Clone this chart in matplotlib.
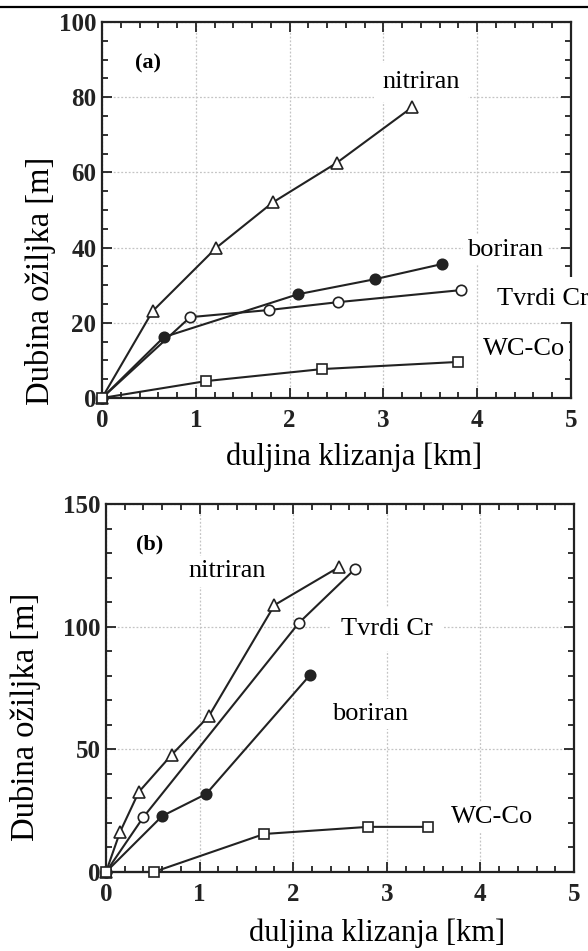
import matplotlib
matplotlib.use("Agg")
import matplotlib.pyplot as plt
from matplotlib.lines import Line2D
from matplotlib.ticker import MultipleLocator

plt.rcParams['font.family'] = ['Liberation Serif', 'DejaVu Serif']

# panel (a)
a_nit_x = [0, 0.54, 1.22, 1.82, 2.50, 3.31]
a_nit_y = [0, 23.1, 40.0, 52.0, 62.5, 77.4]
a_bor_x = [0, 0.66, 2.09, 2.91, 3.62]
a_bor_y = [0, 16.2, 27.6, 31.6, 35.6]
a_cr_x = [0, 0.94, 1.78, 2.52, 3.83]
a_cr_y = [0, 21.5, 23.4, 25.5, 28.7]
a_wc_x = [0, 1.11, 2.35, 3.80]
a_wc_y = [0, 4.5, 7.7, 9.6]

# panel (b)
b_nit_x = [0, 0.15, 0.35, 0.70, 1.10, 1.80, 2.49]
b_nit_y = [0, 16.3, 32.6, 47.7, 63.6, 108.8, 124.3]
b_cr_x = [0, 0.40, 2.06, 2.66]
b_cr_y = [0, 22.4, 101.5, 123.5]
b_bor_x = [0, 0.60, 1.07, 2.18]
b_bor_y = [0, 22.8, 31.8, 80.3]
b_wc_x = [0, 0.51, 1.69, 2.80, 3.44]
b_wc_y = [0, 0, 15.5, 18.4, 18.4]

names = ["nitriran", "boriran", "Tvrdi Cr", "WC-Co"]
xlabel = "duljina klizanja [km]"
ylabel = "Dubina ožiljka [m]"

lc = "#222222"


def setup(ax, ymax, ymajor, yminor):
    ax.set_xlim(0, 5)
    ax.set_ylim(0, ymax)
    ax.xaxis.set_major_locator(MultipleLocator(1))
    ax.xaxis.set_minor_locator(MultipleLocator(0.2))
    ax.yaxis.set_major_locator(MultipleLocator(ymajor))
    ax.yaxis.set_minor_locator(MultipleLocator(yminor))
    ax.tick_params(which="both", direction="in", top=True, right=True,
                   width=1.3, colors="#222222", labelsize=18)
    ax.tick_params(which="major", length=7)
    ax.tick_params(which="minor", length=4)
    ax.tick_params(axis="x", pad=8)
    ax.tick_params(axis="y", pad=4)
    for lab in ax.get_xticklabels() + ax.get_yticklabels():
        lab.set_fontweight("bold")
    ax.grid(True, which="major", linestyle=(0, (1.5, 1.5)), color="#c4c4c4", linewidth=0.9)
    for s in ax.spines.values():
        s.set_linewidth(1.6)
        s.set_color("#222222")
        s.set_zorder(2.5)


def series(ax, x, y, marker, filled, ms):
    ax.plot(x, y, color=lc, linewidth=1.5, marker=marker, markersize=ms,
            markerfacecolor=lc if filled else "white", markeredgecolor=lc,
            markeredgewidth=1.2, zorder=4, clip_on=False)


def label(ax, x, y, s, ha="center", pad=3):
    ax.text(x, y, s, fontsize=19, ha=ha, va="center", zorder=3,
            bbox=dict(facecolor="white", edgecolor="none", pad=pad))


fig = plt.figure(figsize=(5.88, 9.51), dpi=100)
ax1 = fig.add_axes([102 / 588, 1 - 398 / 951, 469 / 588, 376 / 951])
ax2 = fig.add_axes([106 / 588, 1 - 872 / 951, 468 / 588, 368 / 951])

setup(ax1, 100, 20, 5)
series(ax1, a_nit_x, a_nit_y, "^", False, 9)
series(ax1, a_bor_x, a_bor_y, "o", True, 7.5)
series(ax1, a_cr_x, a_cr_y, "o", False, 7.5)
series(ax1, a_wc_x, a_wc_y, "s", False, 7)
ax1.text(0.49, 89.0, "(a)", fontsize=16, fontweight="bold", ha="center", va="center")
label(ax1, 3.40, 84.0, names[0], pad=6)
label(ax1, 4.30, 39.4, names[1])
label(ax1, 4.21, 26.2, names[2], ha="left", pad=8)
label(ax1, 4.50, 12.9, names[3])

setup(ax2, 150, 50, 10)
series(ax2, b_nit_x, b_nit_y, "^", False, 9)
series(ax2, b_cr_x, b_cr_y, "o", False, 7.5)
series(ax2, b_bor_x, b_bor_y, "o", True, 7.5)
series(ax2, b_wc_x, b_wc_y, "s", False, 7)
ax2.text(0.47, 133.5, "(b)", fontsize=16, fontweight="bold", ha="center", va="center")
label(ax2, 1.30, 122.5, names[0])
label(ax2, 3.00, 99.0, names[2], pad=8)
label(ax2, 2.82, 64.5, names[1])
label(ax2, 4.13, 22.5, names[3])

fig.text(354 / 588, 1 - 457 / 951, xlabel, fontsize=22, ha="center", va="center")
fig.text(377 / 588, 1 - 933 / 951, xlabel, fontsize=22, ha="center", va="center")
fig.text(40 / 588, 1 - 281 / 951, ylabel, fontsize=23.5, ha="center", va="center", rotation=90)
fig.text(26 / 588, 1 - 717 / 951, ylabel, fontsize=23.5, ha="center", va="center", rotation=90)

fig.add_artist(Line2D([0, 1], [1 - 7 / 951, 1 - 7 / 951], color="black", linewidth=1.6))

fig.savefig("out.png", dpi=100)
